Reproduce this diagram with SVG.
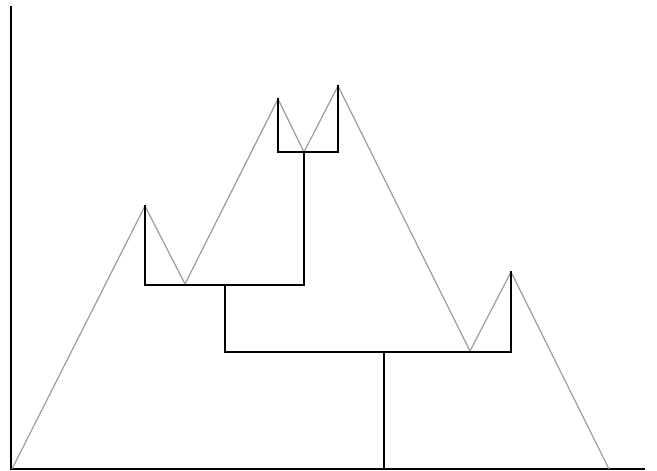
<svg xmlns="http://www.w3.org/2000/svg" width="657" height="471" viewBox="0 0 657 471">
<style>
.axis{stroke:#000;stroke-width:2;fill:none}
.curve{stroke:#999;stroke-width:1.3;fill:none}
.tree{stroke:#000;stroke-width:2;fill:none;stroke-linecap:square}
</style>
<rect width="657" height="471" fill="#fff"/>
<g id="axes">
<line class="axis" x1="11" y1="6" x2="11" y2="470"/>
<line class="axis" x1="10" y1="469" x2="645" y2="469"/>
</g>
<g id="curve">
<polyline class="curve" points="12,469 145,206 185,284 278,99 304,152 338,86 470,351 511,272 609,469"/>
</g>
<g id="connectors">
<polyline class="tree" points="278,99 278,152 338,152 338,86"/>
<polyline class="tree" points="145,206 145,285 304,285 304,152"/>
<polyline class="tree" points="225,285 225,352 511,352 511,272"/>
<line class="tree" x1="384" y1="352" x2="384" y2="469"/>
</g>
</svg>
